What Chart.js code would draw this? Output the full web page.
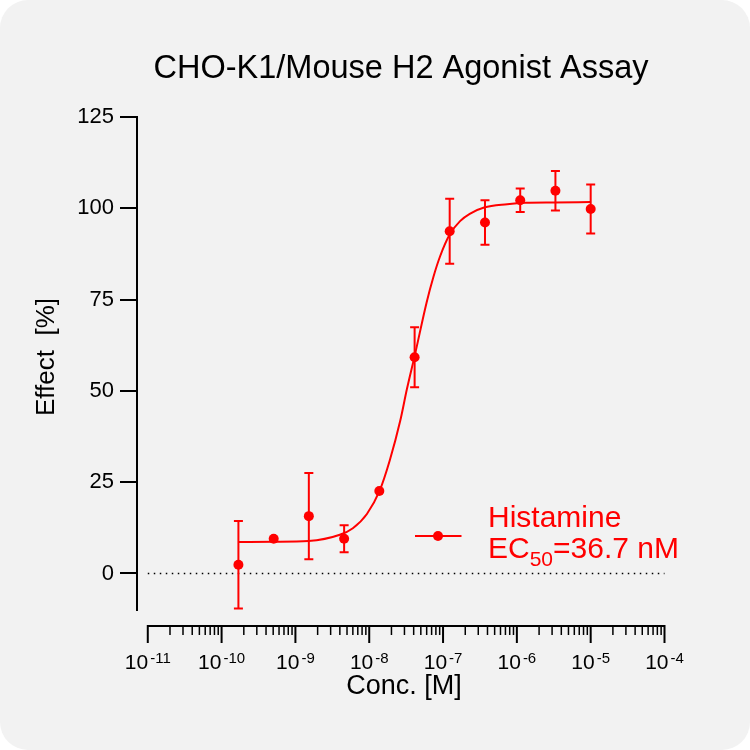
<!DOCTYPE html>
<html>
<head>
<meta charset="utf-8">
<title>CHO-K1/Mouse H2 Agonist Assay</title>
<script src="https://cdn.jsdelivr.net/npm/chart.js@4.4.0/dist/chart.umd.min.js"></script>
<style>
  html, body { margin: 0; padding: 0; background: #ffffff; }
  canvas { display: block; }
</style>
</head>
<body>
<canvas id="assayChart" width="750" height="750"></canvas>
<script>
const FONT = '"Liberation Sans", Arial, Helvetica, sans-serif';
const RED = '#ff0000';

// Histamine, 3-fold dilution series (M)
const concentrations = [1.69e-10, 5.08e-10, 1.52e-9, 4.57e-9, 1.37e-8, 4.12e-8, 1.23e-7, 3.70e-7, 1.11e-6, 3.33e-6, 1.0e-5];
const effectMean = [2.4, 9.5, 15.7, 9.5, 22.6, 59.2, 93.7, 96.1, 102.2, 104.8, 99.8];
const effectSD = [12.0, 0.8, 11.8, 3.7, 1.0, 8.2, 8.9, 6.1, 3.2, 5.4, 6.7];

// fitted curve
const fitConc = [1.69e-10, 5.0e-10, 1.5e-9, 4.0e-9, 6.0e-9, 9.3e-9, 1.38e-8, 1.9e-8, 2.63e-8, 3.24e-8, 4.17e-8,
                 6.0e-8, 7.4e-8, 9.1e-8, 1.245e-7, 1.7e-7, 2.3e-7, 3.6e-7, 7.4e-7, 1.3e-6, 3.2e-6, 1.0e-5];
const fitEffect = [8.6, 8.7, 8.9, 10.6, 12.4, 16.3, 22.6, 31.0, 41.8, 50.5, 60.0,
                   74.3, 81.2, 86.8, 93.0, 96.5, 98.5, 100.2, 101.1, 101.5, 101.6, 101.7];

const yTicks = [0, 25, 50, 75, 100, 125];
const xTickPowers = [-11, -10, -9, -8, -7, -6, -5, -4];

const chartTitle = 'CHO-K1/Mouse H2 Agonist Assay';
const seriesName = 'Histamine';
const ec50Text = '=36.7 nM';

function roundedRect(ctx, x, y, w, h, r) {
    ctx.beginPath();
    ctx.moveTo(x + r, y);
    ctx.arcTo(x + w, y, x + w, y + h, r);
    ctx.arcTo(x + w, y + h, x, y + h, r);
    ctx.arcTo(x, y + h, x, y, r);
    ctx.arcTo(x, y, x + w, y, r);
    ctx.closePath();
}

const decorations = {
    id: 'decorations',
    beforeDraw(chart) {
        const ctx = chart.ctx;
        ctx.save();
        ctx.fillStyle = '#ffffff';
        ctx.fillRect(0, 0, chart.width, chart.height);
        ctx.fillStyle = '#f2f2f2';
        roundedRect(ctx, 0, 0, chart.width, chart.height, 28);
        ctx.fill();
        ctx.restore();
    },
    beforeDatasetsDraw(chart) {
        // dotted baseline at 0 %
        const { ctx, scales: { x, y } } = chart;
        const y0 = y.getPixelForValue(0);
        ctx.save();
        ctx.strokeStyle = '#000000';
        ctx.lineWidth = 1.5;
        ctx.setLineDash([1.5, 4.5]);
        ctx.beginPath();
        ctx.moveTo(x.getPixelForValue(Math.pow(10, xTickPowers[0])), y0);
        ctx.lineTo(x.getPixelForValue(Math.pow(10, xTickPowers[xTickPowers.length - 1])), y0);
        ctx.stroke();
        ctx.restore();
    },
    afterDatasetsDraw(chart) {
        // error bars (SD)
        const { ctx, scales: { x, y } } = chart;
        ctx.save();
        ctx.strokeStyle = RED;
        ctx.lineWidth = 2;
        concentrations.forEach((c, i) => {
            const px = x.getPixelForValue(c);
            const top = y.getPixelForValue(effectMean[i] + effectSD[i]);
            const bot = y.getPixelForValue(effectMean[i] - effectSD[i]);
            if (bot - top < 11) return; // hidden behind the symbol
            ctx.beginPath();
            ctx.moveTo(px, top); ctx.lineTo(px, bot);
            ctx.moveTo(px - 4.5, top); ctx.lineTo(px + 4.5, top);
            ctx.moveTo(px - 4.5, bot); ctx.lineTo(px + 4.5, bot);
            ctx.stroke();
        });
        ctx.restore();
    },
    afterDraw(chart) {
        const { ctx, scales: { x } } = chart;
        ctx.save();
        ctx.fillStyle = '#000000';

        // title
        ctx.font = '32.5px ' + FONT;
        ctx.textAlign = 'center';
        ctx.textBaseline = 'alphabetic';
        ctx.fillText(chartTitle, 401, 78);

        // y axis title
        ctx.save();
        ctx.translate(54, 357);
        ctx.rotate(-Math.PI / 2);
        ctx.font = '26px ' + FONT;
        ctx.fillText('Effect  [%]', 0, 0);
        ctx.restore();

        // x axis (offset below the plot, log ticks)
        const axisY = 626;
        const first = x.getPixelForValue(Math.pow(10, xTickPowers[0]));
        const last = x.getPixelForValue(Math.pow(10, xTickPowers[xTickPowers.length - 1]));
        ctx.strokeStyle = '#000000';
        ctx.lineWidth = 2;
        ctx.beginPath();
        ctx.moveTo(first, axisY); ctx.lineTo(last, axisY);
        ctx.stroke();
        xTickPowers.forEach((p, i) => {
            const px = x.getPixelForValue(Math.pow(10, p));
            ctx.lineWidth = 2;
            ctx.beginPath();
            ctx.moveTo(px, axisY - 1); ctx.lineTo(px, axisY + 17);
            ctx.stroke();
            if (i < xTickPowers.length - 1) {
                ctx.lineWidth = 1.5;
                for (let k = 2; k <= 9; k++) {
                    const mx = x.getPixelForValue(k * Math.pow(10, p));
                    ctx.beginPath();
                    ctx.moveTo(mx, axisY); ctx.lineTo(mx, axisY + 9);
                    ctx.stroke();
                }
            }
            // label 10^p
            ctx.font = '21px ' + FONT;
            const base = '10';
            const wBase = ctx.measureText(base).width;
            ctx.font = '15px ' + FONT;
            const sup = String(p);
            const wSup = ctx.measureText(sup).width;
            const start = px - (wBase + 2 + wSup) / 2;
            ctx.textAlign = 'left';
            ctx.font = '21px ' + FONT;
            ctx.fillText(base, start, 669);
            ctx.font = '15px ' + FONT;
            ctx.fillText(sup, start + wBase + 2, 663);
        });

        // x axis title
        ctx.font = '27px ' + FONT;
        ctx.textAlign = 'center';
        ctx.fillText('Conc. [M]', 404, 694);

        // legend
        ctx.strokeStyle = RED;
        ctx.fillStyle = RED;
        ctx.lineWidth = 2;
        ctx.beginPath();
        ctx.moveTo(415, 536); ctx.lineTo(461.5, 536);
        ctx.stroke();
        ctx.beginPath();
        ctx.arc(438, 536, 5, 0, Math.PI * 2);
        ctx.fill();
        ctx.textAlign = 'left';
        ctx.font = '30px ' + FONT;
        ctx.fillText(seriesName, 488, 527);
        ctx.fillText('EC', 488, 558);
        const wEC = ctx.measureText('EC').width;
        ctx.font = '21px ' + FONT;
        ctx.fillText('50', 488 + wEC, 566);
        const w50 = ctx.measureText('50').width;
        ctx.font = '30px ' + FONT;
        ctx.fillText(ec50Text, 488 + wEC + w50, 558);

        ctx.restore();
    }
};

const ctx = document.getElementById('assayChart').getContext('2d');
const assayChart = new Chart(ctx, {
    type: 'scatter',
    data: {
        datasets: [{
            label: seriesName,
            data: concentrations.map((c, i) => ({ x: c, y: effectMean[i] })),
            pointRadius: 5,
            pointHoverRadius: 5,
            pointBackgroundColor: RED,
            pointBorderWidth: 0,
            showLine: false
        }, {
            label: seriesName + ' fit',
            data: fitConc.map((c, i) => ({ x: c, y: fitEffect[i] })),
            showLine: true,
            borderColor: RED,
            borderWidth: 2,
            pointRadius: 0,
            cubicInterpolationMode: 'monotone',
            fill: false
        }]
    },
    options: {
        responsive: false,
        animation: false,
        devicePixelRatio: 1,
        layout: { padding: { left: 0, top: 117, right: 85.5, bottom: 140 } },
        plugins: {
            legend: { display: false },
            title: { display: false },
            tooltip: { enabled: false }
        },
        scales: {
            x: {
                type: 'logarithmic',
                display: false,
                min: Math.pow(10, -11.146),
                max: 1e-4
            },
            y: {
                min: -10,
                max: 125,
                afterBuildTicks: (scale) => { scale.ticks = yTicks.map(v => ({ value: v })); },
                afterFit: (scale) => { scale.width = 137; },
                border: { display: true, color: '#000000', width: 2 },
                grid: { drawOnChartArea: false, drawTicks: true, tickLength: 17, color: '#000000', lineWidth: 2 },
                ticks: { color: '#000000', padding: 6, font: { family: FONT, size: 22 } }
            }
        }
    },
    plugins: [decorations]
});
</script>
</body>
</html>
